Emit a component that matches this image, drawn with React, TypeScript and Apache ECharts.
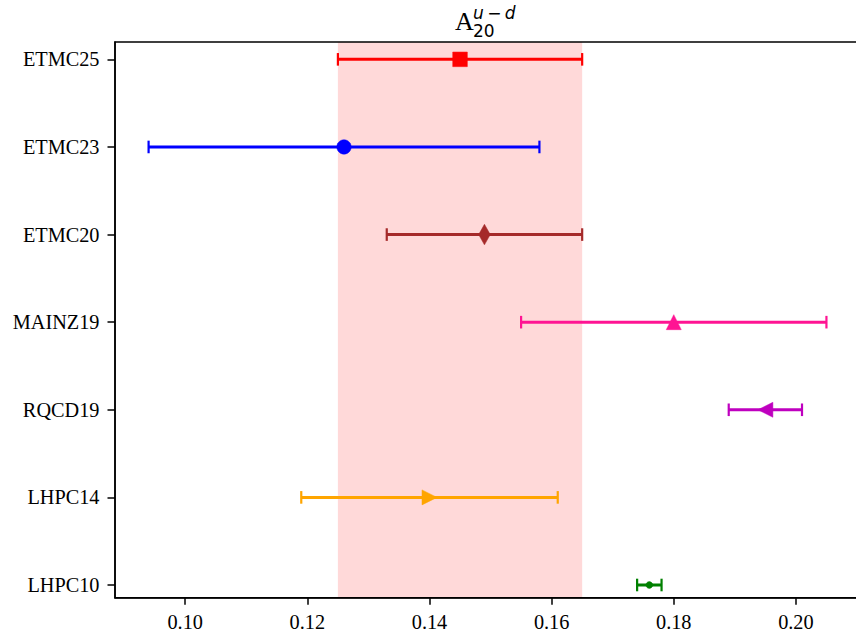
import React, { useEffect, useRef } from "react";
import * as echarts from "echarts";

const labels = ["ETMC25", "ETMC23", "ETMC20", "MAINZ19", "RQCD19", "LHPC14", "LHPC10"];
const centers = [0.145, 0.126, 0.149, 0.18, 0.195, 0.14, 0.176];
const errors = [0.02, 0.032, 0.016, 0.025, 0.006, 0.021, 0.002];
const colors = ["#ff0000", "#0000ff", "#a52a2a", "#ff1493", "#bf00bf", "#ffa500", "#008000"];
const markers = ["square", "circle", "thin_diamond", "triangle_up", "triangle_left", "triangle_right", "point"];
const band = [0.125, 0.165];
const xTicks = [0.1, 0.12, 0.14, 0.16, 0.18, 0.2];
const yTicks = [0, 1, 2, 3, 4, 5, 6];

function markerShape(kind: string, x: number, y: number, color: string) {
  const style = { fill: color, stroke: color, lineWidth: 0.5 };
  const s = 7.5;
  switch (kind) {
    case "square":
      return { type: "rect", shape: { x: x - 7.3, y: y - 7.3, width: 14.6, height: 14.6 }, style };
    case "circle":
      return { type: "circle", shape: { cx: x, cy: y, r: 7.2 }, style };
    case "thin_diamond":
      return { type: "polygon", shape: { points: [[x, y - 10.3], [x + 5.8, y], [x, y + 10.3], [x - 5.8, y]] }, style };
    case "triangle_up":
      return { type: "polygon", shape: { points: [[x, y - s], [x + s, y + s], [x - s, y + s]] }, style };
    case "triangle_left":
      return { type: "polygon", shape: { points: [[x - s, y], [x + s, y - s], [x + s, y + s]] }, style };
    case "triangle_right":
      return { type: "polygon", shape: { points: [[x + s, y], [x - s, y - s], [x - s, y + s]] }, style };
    default:
      return { type: "circle", shape: { cx: x, cy: y, r: 3.4 }, style };
  }
}

export default function App() {
  const ref = useRef<HTMLDivElement>(null);
  useEffect(() => {
    if (!ref.current) return;
    const chart = echarts.init(ref.current, null, { renderer: "svg" });
    const axisFont = { fontFamily: "Liberation Serif", fontSize: 20.3, color: "#000" };
    chart.setOption({
      animation: false,
      backgroundColor: "#fff",
      grid: {
        left: 115,
        top: 42,
        width: 746,
        height: 555.7,
        show: true,
        borderColor: "#000",
        borderWidth: 1.5,
        backgroundColor: "transparent",
        outerBoundsMode: "none",
        containLabel: false,
      },
      xAxis: {
        type: "value",
        min: 0.0885,
        max: 0.21066,
        splitLine: { show: false },
        axisLine: { show: true, onZero: false, lineStyle: { color: "#000", width: 1.5 } },
        axisTick: { show: true, length: 7, customValues: xTicks, lineStyle: { color: "#000", width: 1.5 } },
        axisLabel: {
          ...axisFont,
          margin: 14,
          customValues: xTicks,
          formatter: (v: number) => v.toFixed(2),
        },
      },
      yAxis: {
        type: "value",
        inverse: true,
        min: -0.198,
        max: 6.145,
        splitLine: { show: false },
        axisLine: { show: true, onZero: false, lineStyle: { color: "#000", width: 1.5 } },
        axisTick: { show: true, length: 7.5, customValues: yTicks, lineStyle: { color: "#000", width: 1.5 } },
        axisLabel: {
          ...axisFont,
          margin: 15.5,
          customValues: yTicks,
          formatter: (v: number) => labels[Math.round(v)] ?? "",
        },
      },
      graphic: [
        {
          type: "text",
          x: 455,
          y: 21.3,
          style: { text: "A", fontFamily: "Liberation Serif", fontSize: 26, lineHeight: 20, fill: "#000", verticalAlign: "middle", align: "left" },
        },
        {
          type: "text",
          x: 473,
          y: 31,
          style: { text: "20", fontFamily: "DejaVu Sans", fontSize: 17, lineHeight: 13, fill: "#000", verticalAlign: "middle", align: "left" },
        },
        {
          type: "text",
          x: 473,
          y: 13,
          style: { text: "u\u2009\u2212\u2009d", fontFamily: "DejaVu Sans", fontStyle: "italic", fontSize: 17, lineHeight: 13, fill: "#000", verticalAlign: "middle", align: "left" },
        },
      ],
      series: [
        {
          type: "custom",
          z: -1,
          silent: true,
          clip: false,
          encode: { x: [0, 1], y: [2] },
          data: [[band[0], band[1], 0]],
          renderItem: (params: any, api: any) => {
            const a = api.coord([api.value(0), 0]);
            const b = api.coord([api.value(1), 0]);
            const cs = params.coordSys;
            return {
              type: "rect",
              shape: { x: a[0], y: cs.y, width: b[0] - a[0], height: cs.height },
              style: { fill: "rgba(255,0,0,0.15)" },
            };
          },
        },
        {
          type: "custom",
          z: 3,
          silent: true,
          clip: false,
          encode: { x: [0], y: [2] },
          data: centers.map((c, i) => [c, errors[i], i]),
          renderItem: (params: any, api: any) => {
            const idx = params.dataIndex;
            const c = api.value(0);
            const e = api.value(1);
            const yi = api.value(2);
            const p = api.coord([c, yi]);
            const lo = api.coord([c - e, yi]);
            const hi = api.coord([c + e, yi]);
            const color = colors[idx];
            const capH = 6.3;
            return {
              type: "group",
              children: [
                { type: "line", shape: { x1: lo[0], y1: p[1], x2: hi[0], y2: p[1] }, style: { stroke: color, lineWidth: 3 } },
                { type: "line", shape: { x1: lo[0], y1: p[1] - capH, x2: lo[0], y2: p[1] + capH }, style: { stroke: color, lineWidth: 2.2 } },
                { type: "line", shape: { x1: hi[0], y1: p[1] - capH, x2: hi[0], y2: p[1] + capH }, style: { stroke: color, lineWidth: 2.2 } },
                markerShape(markers[idx], p[0], p[1], color),
              ],
            };
          },
        },
      ],
    });
    return () => chart.dispose();
  }, []);
  return <div ref={ref} style={{ position: "fixed", left: 0, top: 0, width: 856, height: 639 }} />;
}
